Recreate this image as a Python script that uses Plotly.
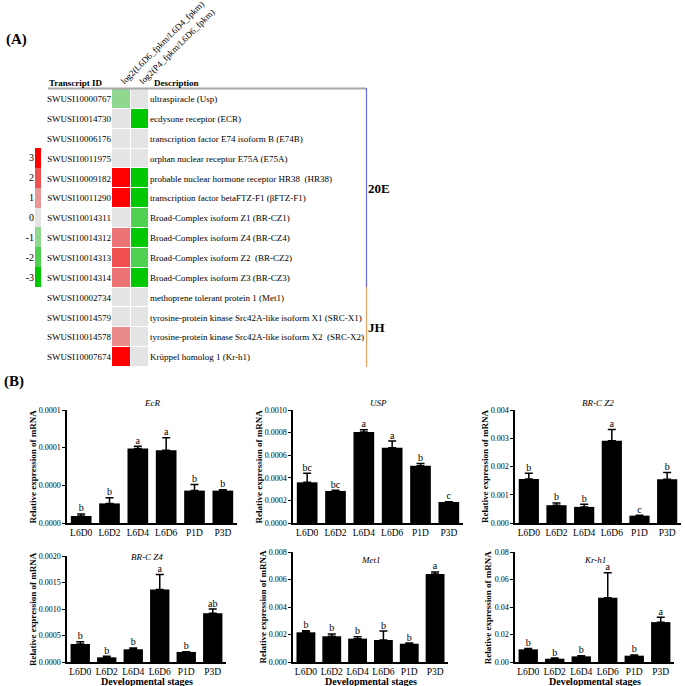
import plotly.graph_objects as go

W, H = 685, 686
def px(x): return x / W
def py(y): return 1 - y / H

SERIF = "Liberation Serif, Times New Roman, serif"

# ---------------- (A) heatmap data ----------------
transcript_ids = ["SWUSI10000767", "SWUSI10014730", "SWUSI10006176", "SWUSI10011975",
                  "SWUSI10009182", "SWUSI10011290", "SWUSI10014311", "SWUSI10014312",
                  "SWUSI10014313", "SWUSI10014314", "SWUSI10002734", "SWUSI10014579",
                  "SWUSI10014578", "SWUSI10007674"]
descriptions = ["ultraspiracle (Usp)", "ecdysone receptor (ECR)",
                "transcription factor E74 isoform B (E74B)", "orphan nuclear receptor E75A (E75A)",
                "probable nuclear hormone receptor HR38  (HR38)", "transcription factor betaFTZ-F1 (βFTZ-F1)",
                "Broad-Complex isoform Z1 (BR-CZ1)", "Broad-Complex isoform Z4 (BR-CZ4)",
                "Broad-Complex isoform Z2  (BR-CZ2)", "Broad-Complex isoform Z3 (BR-CZ3)",
                "methoprene tolerant protein 1 (Met1)", "tyrosine-protein kinase Src42A-like isoform X1 (SRC-X1)",
                "tyrosine-protein kinase Src42A-like isoform X2  (SRC-X2)", "Krüppel homolog 1 (Kr-h1)"]
col_labels = ["log2(L6D6_fpkm/L6D4_fpkm)", "log2(P4_fpkm/L6D6_fpkm)"]
log2_l6d6_l6d4 = [-1, 0, 0, 0, 3, 3, 0, 1.5, 2, 1.5, 0, 0, 1.2, 3]
log2_p4_l6d6 = [0, -3, 0, 0, -3, -3, -2, -3, -2, -3, 0, 0, 0, 0]
legend_values = [3, 2, 1, 0, -1, -2, -3]
legend_labels = ["3", "2", "1", "0", "-1", "-2", "-3"]

# ---------------- (B) bar data ----------------
stages = ["L6D0", "L6D2", "L6D4", "L6D6", "P1D", "P3D"]

ecr_mean = [0.0000093, 0.000026, 0.000099, 0.0000965, 0.000043, 0.000043]
ecr_top = [0.000012, 0.0000336, 0.000102, 0.000113, 0.000051, 0.000044]
ecr_letters = ["b", "b", "a", "a", "b", "b"]
ecr_ticks = [0, 0.00005, 0.0001, 0.00015]
ecr_ticktext = ["0.0000", "0.0000", "0.0001", "0.0001"]

usp_mean = [0.00036, 0.000284, 0.000805, 0.000666, 0.000506, 0.000186]
usp_top = [0.00044, 0.00029, 0.000825, 0.000725, 0.000527, 0.000188]
usp_letters = ["bc", "bc", "a", "a", "b", "c"]
usp_ticks = [0, 0.0002, 0.0004, 0.0006, 0.0008, 0.0010]
usp_ticktext = ["0.0000", "0.0002", "0.0004", "0.0006", "0.0008", "0.0010"]

brcz2_mean = [0.00156, 0.00063, 0.00057, 0.00291, 0.00026, 0.00155]
brcz2_top = [0.00176, 0.00071, 0.00066, 0.00331, 0.00027, 0.00179]
brcz2_letters = ["b", "b", "b", "a", "c", "b"]
brcz2_ticks = [0, 0.001, 0.002, 0.003, 0.004]
brcz2_ticktext = ["0.000", "0.001", "0.002", "0.003", "0.004"]

brcz4_mean = [0.00034, 0.000088, 0.00024, 0.00137, 0.00019, 0.00092]
brcz4_top = [0.00038, 0.000107, 0.000265, 0.00165, 0.000195, 0.0010]
brcz4_letters = ["b", "b", "b", "a", "b", "ab"]
brcz4_ticks = [0, 0.0005, 0.0010, 0.0015, 0.0020]
brcz4_ticktext = ["0.0000", "0.0005", "0.0010", "0.0015", "0.0020"]

met1_mean = [0.00216, 0.00187, 0.0017, 0.0016, 0.00133, 0.0064]
met1_top = [0.00228, 0.00204, 0.00184, 0.00225, 0.00138, 0.00655]
met1_letters = ["b", "b", "b", "b", "b", "a"]
met1_ticks = [0, 0.002, 0.004, 0.006, 0.008]
met1_ticktext = ["0.000", "0.002", "0.004", "0.006", "0.008"]

krh1_mean = [0.0092, 0.0024, 0.0041, 0.0468, 0.0046, 0.029]
krh1_top = [0.0099, 0.0029, 0.0046, 0.065, 0.0051, 0.0325]
krh1_letters = ["b", "b", "b", "a", "b", "a"]
krh1_ticks = [0, 0.02, 0.04, 0.06, 0.08]
krh1_ticktext = ["0.00", "0.02", "0.04", "0.06", "0.08"]

gene_titles = ["EcR", "USP", "BR-C Z2", "BR-C Z4", "Met1", "Kr-h1"]
y_title = "Relative expression of mRNA"
x_title = "Developmental stages"

panels = [
    (ecr_mean, ecr_top, ecr_letters, ecr_ticks, ecr_ticktext),
    (usp_mean, usp_top, usp_letters, usp_ticks, usp_ticktext),
    (brcz2_mean, brcz2_top, brcz2_letters, brcz2_ticks, brcz2_ticktext),
    (brcz4_mean, brcz4_top, brcz4_letters, brcz4_ticks, brcz4_ticktext),
    (met1_mean, met1_top, met1_letters, met1_ticks, met1_ticktext),
    (krh1_mean, krh1_top, krh1_letters, krh1_ticks, krh1_ticktext),
]

# layout geometry (pixels)
x_domains = [(67, 237), (293, 463), (515, 681), (67, 226), (293, 448), (515, 674)]
y_domains = [(410, 523), (410, 523), (410, 523), (556, 662), (552, 662), (552, 662)]
title_y = [403, 403, 403, 557, 560, 560]

colorscale = [[0.0, "#00c800"], [1/6, "#50d050"], [2/6, "#90d890"], [0.5, "#e4e4e4"],
              [4/6, "#e89898"], [5/6, "#f05050"], [1.0, "#ff0000"]]

fig = go.Figure()
layout = dict(
    width=W, height=H, margin=dict(l=0, r=0, t=0, b=0, autoexpand=False),
    paper_bgcolor="white", plot_bgcolor="white", showlegend=False,
    bargap=0.27, font=dict(family=SERIF, color="black"),
)
annotations = []
shapes = []

for i, (mean, top, letters, ticks, ticktext) in enumerate(panels):
    n = i + 1
    xa = "x" if n == 1 else f"x{n}"
    ya = "y" if n == 1 else f"y{n}"
    fig.add_trace(go.Bar(
        x=stages, y=mean, xaxis=xa, yaxis=ya, marker=dict(color="black", line=dict(width=0)),
        error_y=dict(type="data", symmetric=False, array=[t - m for t, m in zip(top, mean)],
                     arrayminus=[0] * len(mean), color="black", thickness=1.5, width=4),
        hoverinfo="skip"))
    fig.add_trace(go.Scatter(
        x=stages, y=top, xaxis=xa, yaxis=ya, mode="text", text=letters,
        textposition="top center", textfont=dict(family=SERIF, size=10, color="black"),
        hoverinfo="skip", cliponaxis=False))
    xd = x_domains[i]; yd = y_domains[i]
    xkey = "xaxis" if n == 1 else f"xaxis{n}"
    ykey = "yaxis" if n == 1 else f"yaxis{n}"
    layout[xkey] = dict(domain=[px(xd[0]), px(xd[1])], anchor=ya, type="category",
                        automargin=False, tickangle=0,
                        showline=True, linecolor="black", linewidth=1.5, ticks="",
                        showgrid=False, zeroline=False,
                        tickfont=dict(family=SERIF, size=9.5, color="black"))
    layout[ykey] = dict(domain=[py(yd[1]), py(yd[0])], anchor=xa, range=[0, ticks[-1]],
                        automargin=False,
                        tickvals=ticks, ticktext=ticktext, showline=True, linecolor="black",
                        linewidth=1.5, ticks="outside", ticklen=3, tickwidth=1.2, tickcolor="black",
                        showgrid=False, zeroline=False,
                        tickfont=dict(family=SERIF, size=8, color="black"))
    # y title placed just left of the widest tick label
    label_w = max(len(t) for t in ticktext) * 0.46 * 8
    annotations.append(dict(text=f"<i>{gene_titles[i]}</i>", xref="paper", yref="paper",
                            x=px((xd[0] + xd[1]) / 2), y=py(title_y[i]), showarrow=False,
                            xanchor="center", yanchor="middle",
                            font=dict(family=SERIF, size=9, color="black")))
    annotations.append(dict(text=f"<b>{y_title}</b>", xref="paper", yref="paper",
                            x=px(xd[0] - 6 - label_w - 6), y=py((yd[0] + yd[1]) / 2),
                            showarrow=False, textangle=-90, xanchor="center", yanchor="middle",
                            font=dict(family=SERIF, size=9, color="black")))
    if n > 3:
        annotations.append(dict(text=f"<b>{x_title}</b>", xref="paper", yref="paper",
                                x=px((xd[0] + xd[1]) / 2), y=py(681.5), showarrow=False,
                                xanchor="center", yanchor="middle",
                                font=dict(family=SERIF, size=10, color="black")))

# ---------------- heatmap ----------------
rows = list(range(len(transcript_ids)))
z = [[a, b] for a, b in zip(log2_l6d6_l6d4, log2_p4_l6d6)]
fig.add_trace(go.Heatmap(z=z, x=[0, 1], y=rows, xaxis="x7", yaxis="y7", colorscale=colorscale,
                         zmin=-3, zmax=3, showscale=False, xgap=1, ygap=1, hoverinfo="skip"))
fig.add_trace(go.Scatter(x=[0.5] * len(rows), y=rows, xaxis="x7", yaxis="y8", mode="markers",
                         marker=dict(opacity=0), hoverinfo="skip"))
hm_y = [py(367), py(89)]
layout["xaxis7"] = dict(domain=[px(112), px(149)], anchor="y7", range=[-0.5, 1.5], side="top",
                        automargin=False,
                        tickvals=[0, 1], ticktext=col_labels, tickangle=-45, ticks="",
                        showgrid=False, zeroline=False, showline=False,
                        tickfont=dict(family=SERIF, size=9, color="black"))
layout["yaxis7"] = dict(domain=hm_y, anchor="x7", range=[13.5, -0.5], tickvals=rows,
                        automargin=False,
                        ticktext=transcript_ids, ticks="", showgrid=False, zeroline=False,
                        showline=False, tickfont=dict(family=SERIF, size=9, color="black"))
layout["yaxis8"] = dict(overlaying="y7", anchor="x7", side="right", range=[13.5, -0.5],
                        automargin=False,
                        tickvals=rows, ticktext=descriptions, ticks="", showgrid=False,
                        zeroline=False, showline=False,
                        tickfont=dict(family=SERIF, size=9, color="black"))

# colour key
lrows = list(range(len(legend_values)))
fig.add_trace(go.Heatmap(z=[[v] for v in legend_values], x=[0], y=lrows, xaxis="x9", yaxis="y9",
                         colorscale=colorscale, zmin=-3, zmax=3, showscale=False, ygap=0,
                         hoverinfo="skip"))
layout["xaxis9"] = dict(domain=[px(35), px(41)], anchor="y9", showticklabels=False, ticks="",
                        automargin=False, showgrid=False, zeroline=False, showline=False)
layout["yaxis9"] = dict(domain=[py(287), py(148)], anchor="x9", range=[6.5, -0.5],
                        automargin=False,
                        tickvals=lrows, ticktext=legend_labels, ticks="", showgrid=False,
                        zeroline=False, showline=False,
                        tickfont=dict(family=SERIF, size=10, color="black"))

# header, group lines and labels
annotations += [
    dict(text="<b>(A)</b>", x=px(4), y=py(40), xref="paper", yref="paper", showarrow=False,
         xanchor="left", yanchor="middle", font=dict(family=SERIF, size=15, color="black")),
    dict(text="<b>(B)</b>", x=px(2), y=py(381), xref="paper", yref="paper", showarrow=False,
         xanchor="left", yanchor="middle", font=dict(family=SERIF, size=15, color="black")),
    dict(text="<b>Transcript ID</b>", x=px(47), y=py(83), xref="paper", yref="paper",
         showarrow=False, xanchor="left", yanchor="middle",
         font=dict(family=SERIF, size=9, color="black")),
    dict(text="<b>Description</b>", x=px(152), y=py(83), xref="paper", yref="paper",
         showarrow=False, xanchor="left", yanchor="middle",
         font=dict(family=SERIF, size=9, color="black")),
    dict(text="<b>20E</b>", x=px(366), y=py(189), xref="paper", yref="paper", showarrow=False,
         xanchor="left", yanchor="middle", font=dict(family=SERIF, size=13, color="black")),
    dict(text="<b>JH</b>", x=px(366), y=py(327), xref="paper", yref="paper", showarrow=False,
         xanchor="left", yanchor="middle", font=dict(family=SERIF, size=13, color="black")),
]
shapes += [
    dict(type="line", xref="paper", yref="paper", x0=px(48), x1=px(366), y0=py(88.5), y1=py(88.5),
         line=dict(color="#a8a8a8", width=2)),
    dict(type="line", xref="paper", yref="paper", x0=px(366.5), x1=px(366.5), y0=py(88), y1=py(287),
         line=dict(color="#6a6af0", width=1.2)),
    dict(type="line", xref="paper", yref="paper", x0=px(366.5), x1=px(366.5), y0=py(287), y1=py(367),
         line=dict(color="#f0a060", width=1.2)),
]
layout["annotations"] = annotations
layout["shapes"] = shapes
fig.update_layout(**layout)
fig.write_html("out.html", config={"displayModeBar": False},
               post_script="document.body.style.margin='0';document.body.style.overflow='hidden';")
